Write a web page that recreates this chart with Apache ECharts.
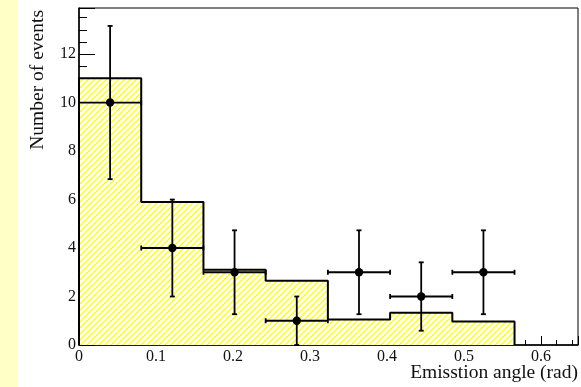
<!DOCTYPE html>
<html>
<head>
<meta charset="utf-8">
<script src="https://cdn.jsdelivr.net/npm/echarts@6/dist/echarts.min.js"></script>
<style>
html,body{margin:0;padding:0;background:#fff;}
#chart{width:581px;height:387px;}
</style>
</head>
<body>
<div id="chart"></div>
<script>
// ---- data ----
const binEdges = [0, 0.0808, 0.1616, 0.2424, 0.3232, 0.404, 0.4848, 0.5656];
const histValues = [11.0, 5.9, 3.1, 2.65, 1.05, 1.33, 0.97];
const pointX = [0.0404, 0.1212, 0.202, 0.2828, 0.3636, 0.4444, 0.5252];
const pointY = [10, 4, 3, 1, 3, 2, 3];
const pointErr = [3.16, 2.0, 1.73, 1.0, 1.73, 1.41, 1.73];
const xTickLabels = ['0', '0.1', '0.2', '0.3', '0.4', '0.5', '0.6'];
const yTickLabels = ['0', '2', '4', '6', '8', '10', '12'];
const xTitle = 'Emisstion angle (rad)';
const yTitle = 'Number of events';

// ---- hatch pattern ----
function makeHatch() {
  const s = 6;
  const c = document.createElement('canvas');
  c.width = s; c.height = s;
  const g = c.getContext('2d');
  g.fillStyle = '#ffffff';
  g.fillRect(0, 0, s, s);
  g.strokeStyle = '#ffff00';
  g.lineWidth = 1.3;
  g.beginPath();
  g.moveTo(-1, s + 1); g.lineTo(s + 1, -1);
  g.moveTo(-1, 1); g.lineTo(1, -1);
  g.moveTo(s - 1, s + 1); g.lineTo(s + 1, s - 1);
  g.stroke();
  return c;
}

// step outline data built from bin edges / values
const stepData = [[binEdges[0], 0]];
for (let i = 0; i < histValues.length; i++) stepData.push([binEdges[i], histValues[i]]);
stepData.push([binEdges[binEdges.length - 1], 0]);

const pointData = pointX.map((x, i) => [x, pointY[i], pointErr[i], binEdges[i], binEdges[i + 1]]);

const chart = echarts.init(document.getElementById('chart'), null, {renderer: 'canvas'});
const serif = '"Liberation Serif", "DejaVu Serif", serif';

const option = {
  backgroundColor: '#ffffff',
  animation: false,
  grid: {left: 79, top: 8, right: 3, bottom: 42, show: true, borderColor: '#000', borderWidth: 1, backgroundColor: 'transparent'},
  xAxis: {
    type: 'value', min: 0, max: 0.648, interval: 0.1,
    axisLine: {show: true, onZero: false, lineStyle: {color: '#000', width: 1.5}},
    axisTick: {show: true, inside: true, length: 9, lineStyle: {color: '#000', width: 1}},
    minorTick: {show: true, splitNumber: 5, length: 5, lineStyle: {color: '#000', width: 1}},
    splitLine: {show: false},
    axisLabel: {
      showMaxLabel: false, margin: 4, fontFamily: serif, fontSize: 16, color: '#111',
      formatter: function (v) { const i = Math.round(v * 10); return (Math.abs(v * 10 - i) < 1e-6 && xTickLabels[i] !== undefined) ? xTickLabels[i] : ''; }
    }
  },
  yAxis: {
    type: 'value', min: 0, max: 13.9, interval: 2,
    axisLine: {show: true, onZero: false, lineStyle: {color: '#000', width: 1.5}},
    axisTick: {show: true, inside: true, length: 16, lineStyle: {color: '#000', width: 1}},
    minorTick: {show: true, splitNumber: 4, length: 8, lineStyle: {color: '#000', width: 1}},
    splitLine: {show: false},
    axisLabel: {
      showMaxLabel: false, margin: 3, fontFamily: serif, fontSize: 16, color: '#111',
      formatter: function (v) { const i = Math.round(v / 2); return (Math.abs(v / 2 - i) < 1e-6 && yTickLabels[i] !== undefined) ? yTickLabels[i] : ''; }
    }
  },
  graphic: [
    {type: 'rect', left: 0, top: 0, shape: {x: 0, y: 0, width: 18, height: 387}, style: {fill: '#ffffc6'}, z: -10},
    {type: 'text', x: 37.5, y: 10, rotation: Math.PI / 2,
     style: {text: yTitle, font: '19.5px ' + serif, fill: '#111', align: 'right', verticalAlign: 'middle'}},
    {type: 'text', x: 578, y: 373,
     style: {text: xTitle, font: '19.5px ' + serif, fill: '#111', align: 'right', verticalAlign: 'middle'}}
  ],
  series: [
    {
      type: 'line', step: 'end', data: stepData, symbol: 'none', z: 2,
      lineStyle: {color: '#000', width: 2},
      areaStyle: {color: {image: makeHatch(), repeat: 'repeat'}, opacity: 1, origin: 0}
    },
    {
      type: 'custom', data: pointData, z: 5, clip: false,
      renderItem: function (params, api) {
        const x = api.value(0), y = api.value(1), e = api.value(2), xl = api.value(3), xh = api.value(4);
        const c = api.coord([x, y]);
        const t = api.coord([x, y + e]);
        const b = api.coord([x, Math.max(0, y - e)]);
        const l = api.coord([xl, y]);
        const r = api.coord([xh, y]);
        const st = {stroke: '#000', lineWidth: 1.8};
        const cap = 2.5;
        return {type: 'group', children: [
          {type: 'line', shape: {x1: c[0], y1: t[1], x2: c[0], y2: b[1]}, style: st},
          {type: 'line', shape: {x1: l[0], y1: c[1], x2: r[0], y2: c[1]}, style: st},
          {type: 'line', shape: {x1: c[0] - cap, y1: t[1], x2: c[0] + cap, y2: t[1]}, style: st},
          {type: 'line', shape: {x1: c[0] - cap, y1: b[1], x2: c[0] + cap, y2: b[1]}, style: st},
          {type: 'line', shape: {x1: l[0], y1: c[1] - cap, x2: l[0], y2: c[1] + cap}, style: st},
          {type: 'line', shape: {x1: r[0], y1: c[1] - cap, x2: r[0], y2: c[1] + cap}, style: st},
          {type: 'circle', shape: {cx: c[0], cy: c[1], r: 4.2}, style: {fill: '#000'}}
        ]};
      }
    }
  ]
};
chart.setOption(option);
</script>
</body>
</html>
